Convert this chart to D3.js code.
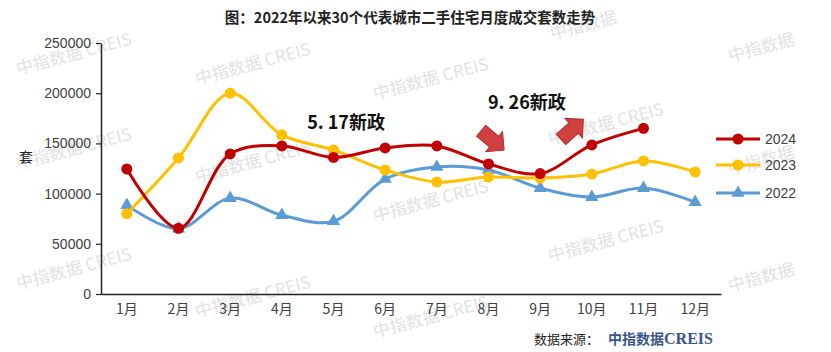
<!DOCTYPE html>
<html>
<head>
<meta charset="utf-8">
<script src="https://cdn.jsdelivr.net/npm/d3@7"></script>
<style>
  body { margin: 0; background: #fff; }
  svg { display: block; font-family: "Liberation Sans", Arial, sans-serif; }
</style>
</head>
<body>
<div id="chart"></div>
<script>
// data
const months = ["1月", "2月", "3月", "4月", "5月", "6月", "7月", "8月", "9月", "10月", "11月", "12月"];
const s2024 = [124500, 65500, 139500, 147500, 136000, 145500, 147500, 129500, 120000, 148500, 165000, null];
const s2023 = [80000, 135500, 200000, 158500, 143500, 123500, 111500, 116500, 115500, 119500, 132500, 121500];
const s2022 = [88500, 65000, 95500, 78500, 72500, 114500, 126500, 123500, 105500, 96500, 105500, 91500];
const yTicks = [0, 50000, 100000, 150000, 200000, 250000];

const series = [
	{ name: "2024", values: s2024, color: "#C00000", symbol: "circle" },
	{ name: "2023", values: s2023, color: "#FFC000", symbol: "circle" },
	{ name: "2022", values: s2022, color: "#5B9BD5", symbol: "triangle" }
];

// annotations: month index (fractional) + value
const notes = [
	{ text: "5. 17新政", m: 3.49, v: 164500 },
	{ text: "9. 26新政", m: 6.99, v: 184500 }
];
const arrows = [
	{ m: 7.08, v: 153000, angle: 40 },
	{ m: 8.62, v: 164000, angle: -42 }
];

const watermarks = [
	[18, 75, "中指数据 CREIS"], [197, 85, "中指数据 CREIS"], [375, 100, "中指数据 CREIS"],
	[552, 40, "中指数据"], [730, 62, "中指数据"],
	[18, 170, "中指数据 CREIS"], [197, 183, "中指数据 CREIS"], [375, 222, "中指数据 CREIS"],
	[550, 145, "中指数据 CREIS"], [730, 175, "中指数据"],
	[18, 290, "中指数据 CREIS"], [197, 318, "中指数据 CREIS"], [375, 338, "中指数据 CREIS"],
	[550, 262, "中指数据 CREIS"], [730, 292, "中指数据"]
];

const W = 831, H = 352;
const margin = { top: 43, right: 110, bottom: 58, left: 101 };
const width = W - margin.left - margin.right;
const height = H - margin.top - margin.bottom;

const svg = d3.select("#chart").append("svg")
	.attr("width", W)
	.attr("height", H);

// watermarks (behind everything)
svg.append("g").selectAll("text")
	.data(watermarks)
	.join("text")
	.attr("transform", d => "translate(" + d[0] + "," + d[1] + ") rotate(-15)")
	.attr("font-family", "'Noto Sans CJK SC', sans-serif")
	.attr("font-size", 17)
	.attr("fill", "#e2e2e2")
	.text(d => d[2]);

// title
svg.append("text")
	.attr("x", 410)
	.attr("y", 23)
	.attr("text-anchor", "middle")
	.attr("font-family", "'Noto Sans CJK SC', sans-serif")
	.attr("font-weight", "bold")
	.attr("font-size", 14.5)
	.attr("fill", "#222")
	.text("图：2022年以来30个代表城市二手住宅月度成交套数走势");

const g = svg.append("g")
	.attr("transform", "translate(" + margin.left + "," + margin.top + ")");

const x = d3.scaleBand().domain(months).range([0, width]);
const y = d3.scaleLinear().domain([0, 250000]).range([height, 0]);
const xm = i => x(months[0]) + x.bandwidth() * (i + 0.5);

// y axis
const yAxis = g.append("g")
	.call(d3.axisLeft(y).tickValues(yTicks).tickFormat(d3.format("d")).tickSize(5).tickSizeOuter(0));
yAxis.select(".domain").attr("stroke", "#222").attr("stroke-width", 1.5);
yAxis.selectAll(".tick line").attr("stroke", "#222").attr("stroke-width", 1.2);
yAxis.selectAll(".tick text")
	.attr("x", -10)
	.attr("font-size", 14)
	.attr("fill", "#404040")
	.attr("font-family", "'Liberation Sans', Arial, sans-serif");

// x axis
const xAxis = g.append("g")
	.attr("transform", "translate(0," + height + ")")
	.call(d3.axisBottom(x).tickSize(0).tickSizeOuter(0));
xAxis.select(".domain").attr("stroke", "#222").attr("stroke-width", 1.5);
xAxis.selectAll(".tick text")
	.attr("dy", "1.2em")
	.attr("font-size", 14)
	.attr("fill", "#404040")
	.attr("font-family", "'Noto Sans CJK SC', sans-serif");

// y axis title
svg.append("text")
	.attr("x", 26)
	.attr("y", 162)
	.attr("text-anchor", "middle")
	.attr("font-family", "'Noto Sans CJK SC', sans-serif")
	.attr("font-size", 14)
	.attr("fill", "#222")
	.text("套");

// lines + markers, drawn 2022 first so 2024 sits on top
const line = d3.line()
	.defined(d => d.v != null)
	.x(d => xm(d.i))
	.y(d => y(d.v))
	.curve(d3.curveCatmullRom.alpha(0.5));

const symTri = d3.symbol().type(d3.symbolTriangle).size(75);

series.slice().reverse().forEach(s => {
	const pts = s.values.map((v, i) => ({ i, v }));
	g.append("path")
		.datum(pts)
		.attr("fill", "none")
		.attr("stroke", s.color)
		.attr("stroke-width", 3)
		.attr("d", line);

	const valid = pts.filter(d => d.v != null);
	if (s.symbol === "circle") {
		g.append("g").selectAll("circle")
			.data(valid)
			.join("circle")
			.attr("cx", d => xm(d.i))
			.attr("cy", d => y(d.v))
			.attr("r", 5.5)
			.attr("fill", s.color);
	} else {
		g.append("g").selectAll("path")
			.data(valid)
			.join("path")
			.attr("transform", d => "translate(" + xm(d.i) + "," + y(d.v) + ")")
			.attr("d", symTri)
			.attr("fill", s.color);
	}
});

// annotations
g.selectAll(".note")
	.data(notes)
	.join("text")
	.attr("class", "note")
	.attr("x", d => xm(d.m))
	.attr("y", d => y(d.v))
	.attr("font-family", "'Noto Sans CJK SC', sans-serif")
	.attr("font-weight", "bold")
	.attr("font-size", 18)
	.attr("fill", "#111")
	.text(d => d.text);

// block arrows pointing to the right, rotated
const arrowPath = "M-15,-7 L2,-7 L2,-13 L15,0 L2,13 L2,7 L-15,7 Z";
g.selectAll(".arrow")
	.data(arrows)
	.join("path")
	.attr("class", "arrow")
	.attr("transform", d => "translate(" + xm(d.m) + "," + y(d.v) + ") rotate(" + d.angle + ")")
	.attr("d", arrowPath)
	.attr("fill", "#D04040")
	.attr("stroke", "#B02828")
	.attr("stroke-width", 1);

// legend
const legend = svg.append("g")
	.attr("transform", "translate(716,139)");
const li = legend.selectAll("g")
	.data(series)
	.join("g")
	.attr("transform", (d, i) => "translate(0," + [0, 26, 54][i] + ")");
li.append("line")
	.attr("x1", 0).attr("x2", 44)
	.attr("stroke", d => d.color)
	.attr("stroke-width", 3);
li.each(function(d) {
	const el = d3.select(this);
	if (d.symbol === "circle") {
		el.append("circle").attr("cx", 22).attr("r", 5.5).attr("fill", d.color);
	} else {
		el.append("path").attr("transform", "translate(22,0)").attr("d", symTri).attr("fill", d.color);
	}
});
li.append("text")
	.attr("x", 49)
	.attr("dy", "0.36em")
	.attr("font-size", 14)
	.attr("fill", "#404040")
	.text(d => d.name);

// source
const src = svg.append("text")
	.attr("x", 534)
	.attr("y", 344)
	.attr("font-family", "'Noto Sans CJK SC', sans-serif")
	.attr("font-size", 13)
	.attr("fill", "#222");
src.append("tspan").text("数据来源：");
src.append("tspan")
	.attr("dx", 9)
	.attr("font-weight", "bold")
	.attr("font-size", 14)
	.attr("fill", "#3A5688")
	.text("中指数据");
src.append("tspan")
	.attr("font-family", "'Liberation Serif', serif")
	.attr("font-weight", "bold")
	.attr("font-size", 16)
	.attr("fill", "#3A5688")
	.text("CREIS");
</script>
</body>
</html>
